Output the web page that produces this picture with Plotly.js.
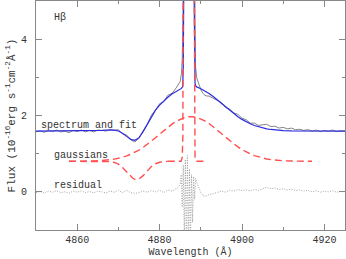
<!DOCTYPE html>
<html>
<head>
<meta charset="utf-8">
<script src="https://cdn.plot.ly/plotly-3.0.1.min.js"></script>
<style>html,body{margin:0;padding:0;background:#fff;}#chart{width:346px;height:259px;}</style>
</head>
<body>
<div id="chart"></div>
<script>
// Observed spectrum (wavelength in Å, flux in 1e-16 erg/s/cm2/Å)
const specX = [4850,4851,4852,4853,4854,4855,4856,4857,4858,4859,4860,4861,4862,4863,4864,4865,4866,4867,4868,4869,4870,4871,4872,4873,4874,4875,4876,4877,4878,4879,4880,4881,4882,4883,4884,
  4884.5,4885,4885.3,4885.5,4885.7,4885.9,4886.5,4887.1,4887.7,4888.3,4888.5,4888.7,4889,4889.5,4890,4890.5,4891,4891.5,
  4892,4893,4894,4895,4896,4897,4898,4899,4900,4901,4902,4903,4904,4905,4906,4907,4908,4909,4910,4911,4912,4913,4914,4915,4916,4917,4918,4919,4920,4921,4922,4923,4924,4925];
const specY = [1.57,1.60,1.56,1.61,1.58,1.62,1.57,1.59,1.55,1.61,1.58,1.62,1.57,1.61,1.57,1.62,1.61,1.59,1.64,1.61,1.63,1.52,1.49,1.36,1.31,1.40,1.60,1.77,2.01,2.14,2.31,2.36,2.53,2.58,2.72,
  2.79,2.89,3.1,3.5,5.0,9,20,26,20,9,5,3.3,2.99,2.82,2.68,2.58,2.53,2.51,
  2.51,2.45,2.39,2.34,2.21,2.17,2.07,2.03,1.93,1.89,1.80,1.80,1.74,1.76,1.77,1.71,1.72,1.67,1.69,1.65,1.67,1.625,1.64,1.61,1.63,1.59,1.62,1.58,1.61,1.59,1.62,1.58,1.60,1.59];

// Fit
const fitX = [4850,4855,4860,4862,4863,4864,4865,4866,4867,4868,4869,4870,4871,4872,4873,4874,4875,4876,4877,4878,4879,4880,4881,4882,4883,4884,4885,
  4885.3,4885.6,4885.75,4885.9,4886.5,4887.1,4887.7,4888.3,4888.45,4888.6,4888.8,
  4889,4890,4891,4892,4893,4894,4895,4896,4897,4898,4899,4900,4901,4902,4903,4904,4905,4906,4907,4908,4909,4910,4912,4914,4917,4920,4925];
const fitY = [1.59,1.59,1.59,1.594,1.596,1.599,1.604,1.609,1.616,1.621,1.618,1.593,1.536,1.453,1.376,1.351,1.420,1.577,1.778,1.975,2.141,2.274,2.383,2.478,2.563,2.635,2.693,
  2.71,2.76,3.3,6,20,26,20,6,3.3,2.85,2.77,
  2.75,2.703,2.648,2.579,2.498,2.409,2.317,2.223,2.133,2.046,1.968,1.898,1.836,1.783,1.739,1.703,1.674,1.651,1.634,1.621,1.612,1.605,1.597,1.593,1.59,1.59,1.59];

// Gaussian components (shown offset)
const broadX = [4858,4860,4862,4864,4866,4867,4868,4869,4870,4871,4872,4873,4874,4875,4876,4877,4878,4879,4880,4881,4882,4883,4884,4885,4886,4887,4888,4889,4890,4891,4892,4893,4894,4895,4896,4897,4898,4899,4900,4901,4902,4903,4904,4905,4906,4907,4908,4909,4910,4912,4914,4917];
const broadY = [0.80,0.80,0.804,0.809,0.82,0.829,0.841,0.858,0.879,0.906,0.94,0.984,1.034,1.094,1.163,1.24,1.325,1.415,1.508,1.601,1.69,1.773,1.845,1.903,1.944,1.966,1.968,1.95,1.913,1.858,1.789,1.708,1.619,1.527,1.433,1.343,1.256,1.178,1.108,1.046,0.993,0.949,0.913,0.884,0.861,0.844,0.831,0.822,0.815,0.807,0.803,0.80];
const absX = [4858,4866,4867,4868,4869,4870,4871,4872,4872.5,4873,4873.5,4874,4874.5,4875,4875.5,4876,4876.5,4877,4878,4879,4880,4881,4882];
const absY = [0.8,0.799,0.797,0.79,0.77,0.724,0.64,0.523,0.46,0.402,0.356,0.327,0.32,0.336,0.372,0.424,0.485,0.548,0.66,0.736,0.776,0.792,0.798];
const narrowX = [4882,4885.2,4885.5,4885.65,4885.72,4886.3,4887.05,4887.8,4888.38,4888.45,4888.6,4888.9,4891];
const narrowY = [0.8,0.8,0.9,1.5,6,20,28,20,6,1.5,0.9,0.8,0.8];

// Residual
const residX = [4850,4851,4852,4853,4854,4855,4856,4857,4858,4859,4860,4861,4862,4863,4864,4865,4866,4867,4868,4869,4870,4871,4872,4873,4874,4875,4876,4877,4878,4879,4880,4881,4882,4883,4884,
  4884.5,4885,4885.25,4885.5,4885.75,4886.0,4886.25,4886.5,4886.75,4887.0,4887.25,4887.5,4887.75,4888.0,4888.25,4888.5,4888.75,4889,4889.5,4890,4890.5,4891,4891.5,
  4892,4893,4894,4895,4896,4897,4898,4899,4900,4901,4902,4903,4904,4905,4906,4907,4908,4909,4910,4911,4912,4913,4914,4915,4916,4917,4918,4919,4920,4921,4922,4923,4924,4925];
const residY = [-0.02,0.01,-0.03,0.02,-0.01,0.03,-0.02,0.0,-0.04,0.02,-0.01,0.03,-0.02,0.01,-0.03,0.02,0.0,-0.03,0.02,-0.01,0.04,-0.02,0.04,-0.02,-0.04,-0.02,0.02,-0.01,0.03,0.0,0.04,-0.02,0.05,0.02,0.08,
  0.12,0.2,0.45,-0.4,0.7,-1.3,0.85,-1.6,0.95,-1.5,0.6,-1.3,0.45,-0.8,0.4,-0.2,0.35,0.25,0.1,-0.02,-0.1,-0.12,-0.1,
  -0.07,-0.05,-0.02,0.02,-0.01,0.04,0.02,0.06,0.03,0.05,0.02,0.06,0.04,0.09,0.12,0.08,0.1,0.06,0.08,0.05,0.07,0.03,0.05,0.02,0.04,0.0,0.03,-0.01,0.02,0.0,0.03,-0.01,0.01,0.0];

const xTicks = [4860,4880,4900,4920];
const yTicks = [0,2,4];

const FONT = 'Liberation Mono';
const TXT = '#333';
const AX = '#888';
const redLine = {color:'#ff5050', width:1.4, dash:'7px,4px'};

const traces = [
  {x:specX, y:specY, mode:'lines', line:{color:'#777', width:0.9}, hoverinfo:'skip'},
  {x:fitX, y:fitY, mode:'lines', line:{color:'#2b2bdd', width:1.2}, hoverinfo:'skip'},
  {x:broadX, y:broadY, mode:'lines', line:redLine, hoverinfo:'skip'},
  {x:absX, y:absY, mode:'lines', line:redLine, hoverinfo:'skip'},
  {x:narrowX, y:narrowY, mode:'lines', line:redLine, hoverinfo:'skip'},
  {x:residX, y:residY, mode:'lines', line:{color:'#999', width:0.9, dash:'1px,1.5px'}, hoverinfo:'skip'}
];

const layout = {
  width:346, height:259,
  margin:{l:36, r:1, t:1, b:29},
  paper_bgcolor:'#fff', plot_bgcolor:'#fff',
  showlegend:false,
  font:{family:FONT, size:10, color:TXT},
  xaxis:{
    range:[4850,4925], tickvals:xTicks, ticktext:xTicks.map(String),
    ticks:'inside', ticklen:6, tickcolor:AX, tickwidth:1,
    minor:{dtick:10, tick0:4850, ticks:'inside', ticklen:3, tickcolor:AX},
    showline:true, linecolor:AX, linewidth:1, mirror:'ticks',
    showgrid:false, zeroline:false,
    tickfont:{family:FONT, size:10, color:TXT},
    title:{text:'Wavelength (Å)', font:{family:FONT, size:10, color:TXT}, standoff:2}
  },
  yaxis:{
    range:[-1,5], tickvals:yTicks, ticktext:yTicks.map(String),
    ticks:'inside', ticklen:6, tickcolor:AX, tickwidth:1,
    minor:{dtick:1, tick0:0, ticks:'inside', ticklen:3, tickcolor:AX},
    showline:true, linecolor:AX, linewidth:1, mirror:'ticks',
    showgrid:false, zeroline:false,
    tickfont:{family:FONT, size:10, color:TXT},
    ticklabelstandoff:6,
    title:{text:'Flux (10<sup>-16</sup>erg s<sup>-1</sup>cm<sup>-2</sup>Å<sup>-1</sup>)', font:{family:FONT, size:11, color:TXT}, standoff:3}
  },
  annotations:[
    {text:'Hβ', x:4854, y:4.57, xref:'x', yref:'y', xanchor:'left', yanchor:'middle', showarrow:false, font:{family:FONT, size:10, color:TXT}},
    {text:'spectrum and fit', x:4850.8, y:1.75, xref:'x', yref:'y', xanchor:'left', yanchor:'middle', showarrow:false, font:{family:FONT, size:10, color:TXT}},
    {text:'gaussians', x:4853.8, y:0.96, xref:'x', yref:'y', xanchor:'left', yanchor:'middle', showarrow:false, font:{family:FONT, size:10, color:TXT}},
    {text:'residual', x:4853.8, y:0.16, xref:'x', yref:'y', xanchor:'left', yanchor:'middle', showarrow:false, font:{family:FONT, size:10, color:TXT}}
  ]
};

Plotly.newPlot('chart', traces, layout, {staticPlot:true, displayModeBar:false});
</script>
</body>
</html>
